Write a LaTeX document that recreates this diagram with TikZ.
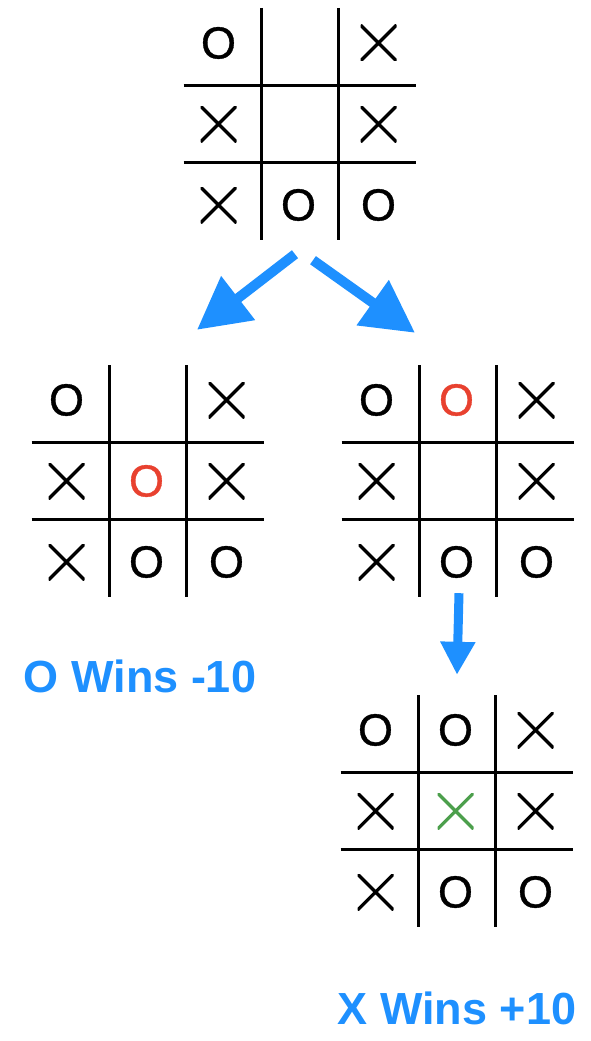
\documentclass[tikz,border=0pt]{standalone}
\usepackage{fontspec}
\usetikzlibrary{arrows.meta}

\newfontfamily\markfont{Liberation Sans}
\newfontfamily\labelfont{Liberation Sans}

\definecolor{winBlue}{HTML}{1E90FF}
\definecolor{moveRed}{HTML}{E8412F}
\definecolor{moveGreen}{HTML}{4C9F4C}

% slightly heavier O: fill and stroke the glyph
\newcommand{\heavyO}{\special{pdf:literal direct 2 Tr 0.35 w}O\special{pdf:literal direct 0 Tr}}

\begin{document}
\begin{tikzpicture}[
    x=1pt, y=-1pt,
    board/.style={minimum size=233pt, inner sep=0pt},
    gridline/.style={line width=3pt, black},
    xmark/.style={minimum size=36pt, inner sep=0pt, node contents={},
        path picture={\draw[line width=3.2pt, #1]
            (path picture bounding box.south west) -- (path picture bounding box.north east)
            (path picture bounding box.north west) -- (path picture bounding box.south east);}},
    xmark/.default=black,
    omark/.style={font=\markfont\fontsize{45}{45}\selectfont, text=#1,
        inner sep=0pt, node contents=\heavyO},
    omark/.default=black,
    oRed/.style={omark=moveRed},
    xGreen/.style={xmark=moveGreen},
    bigarr/.style={-{Triangle[length=52pt, width=53pt]}, line width=10pt, winBlue},
    downarr/.style={-{Triangle[length=33pt, width=33pt]}, line width=9pt, winBlue},
    wins/.style={font=\labelfont\bfseries\fontsize{45}{45}\selectfont,
        text=winBlue, inner sep=0pt, anchor=base},
]
\useasboundingbox (0, 0) rectangle (590, 1041);

% --- Start position (top) ---
\node[board] (top) at (299.5, 124) {};
\begin{scope}[shift={(top.center)}]
  \foreach \p in {-38.5, 38.5} {
    \draw[gridline] (\p, -116) -- (\p, 116);
    \draw[gridline] (-116, \p) -- (116, \p);
  }
  \foreach \c/\r/\m in {1/1/omark, 3/1/xmark, 1/2/xmark, 3/2/xmark,
                        1/3/xmark, 2/3/omark, 3/3/omark}
    \node (top\c\r) at ({(\c-2)*80-1}, {(\r-2)*81}) [\m];
\end{scope}

% --- O takes the centre (left) ---
\node[board] (left) at (147.5, 481) {};
\begin{scope}[shift={(left.center)}]
  \foreach \p in {-38.5, 38.5} {
    \draw[gridline] (\p, -116) -- (\p, 116);
    \draw[gridline] (-116, \p) -- (116, \p);
  }
  \foreach \c/\r/\m in {1/1/omark, 3/1/xmark, 1/2/xmark, 2/2/oRed, 3/2/xmark,
                        1/3/xmark, 2/3/omark, 3/3/omark}
    \node (left\c\r) at ({(\c-2)*80-1}, {(\r-2)*81}) [\m];
\end{scope}

% --- O takes the top edge (right) ---
\node[board] (right) at (457.5, 481) {};
\begin{scope}[shift={(right.center)}]
  \foreach \p in {-38.5, 38.5} {
    \draw[gridline] (\p, -116) -- (\p, 116);
    \draw[gridline] (-116, \p) -- (116, \p);
  }
  \foreach \c/\r/\m in {1/1/omark, 2/1/oRed, 3/1/xmark, 1/2/xmark, 3/2/xmark,
                        1/3/xmark, 2/3/omark, 3/3/omark}
    \node (right\c\r) at ({(\c-2)*80-1}, {(\r-2)*81}) [\m];
\end{scope}

% --- X answers in the centre (bottom) ---
\node[board] (bottom) at (456.5, 811) {};
\begin{scope}[shift={(bottom.center)}]
  \foreach \p in {-38.5, 38.5} {
    \draw[gridline] (\p, -116) -- (\p, 116);
    \draw[gridline] (-116, \p) -- (116, \p);
  }
  \foreach \c/\r/\m in {1/1/omark, 2/1/omark, 3/1/xmark, 1/2/xmark, 2/2/xGreen,
                        3/2/xmark, 1/3/xmark, 2/3/omark, 3/3/omark}
    \node (bottom\c\r) at ({(\c-2)*80-1}, {(\r-2)*81}) [\m];
\end{scope}

% --- Moves ---
\draw[bigarr] ([shift={(-4.5, 13.5)}]top.south) -- ([shift={(49.5, -34.5)}]left.north);
\draw[bigarr] ([shift={(13.5, 19.5)}]top.south) -- ([shift={(-42.5, -31.5)}]right.north);
\draw[downarr] ([shift={(1.5, -4.5)}]right.south) -- ([shift={(0.5, -19.5)}]bottom.north);

% --- Scores ---
\node[wins] (owins) at (140, 692) {O Wins -10};
\node[wins] (xwins) at (457, 1024) {X Wins +10};

\end{tikzpicture}
\end{document}
